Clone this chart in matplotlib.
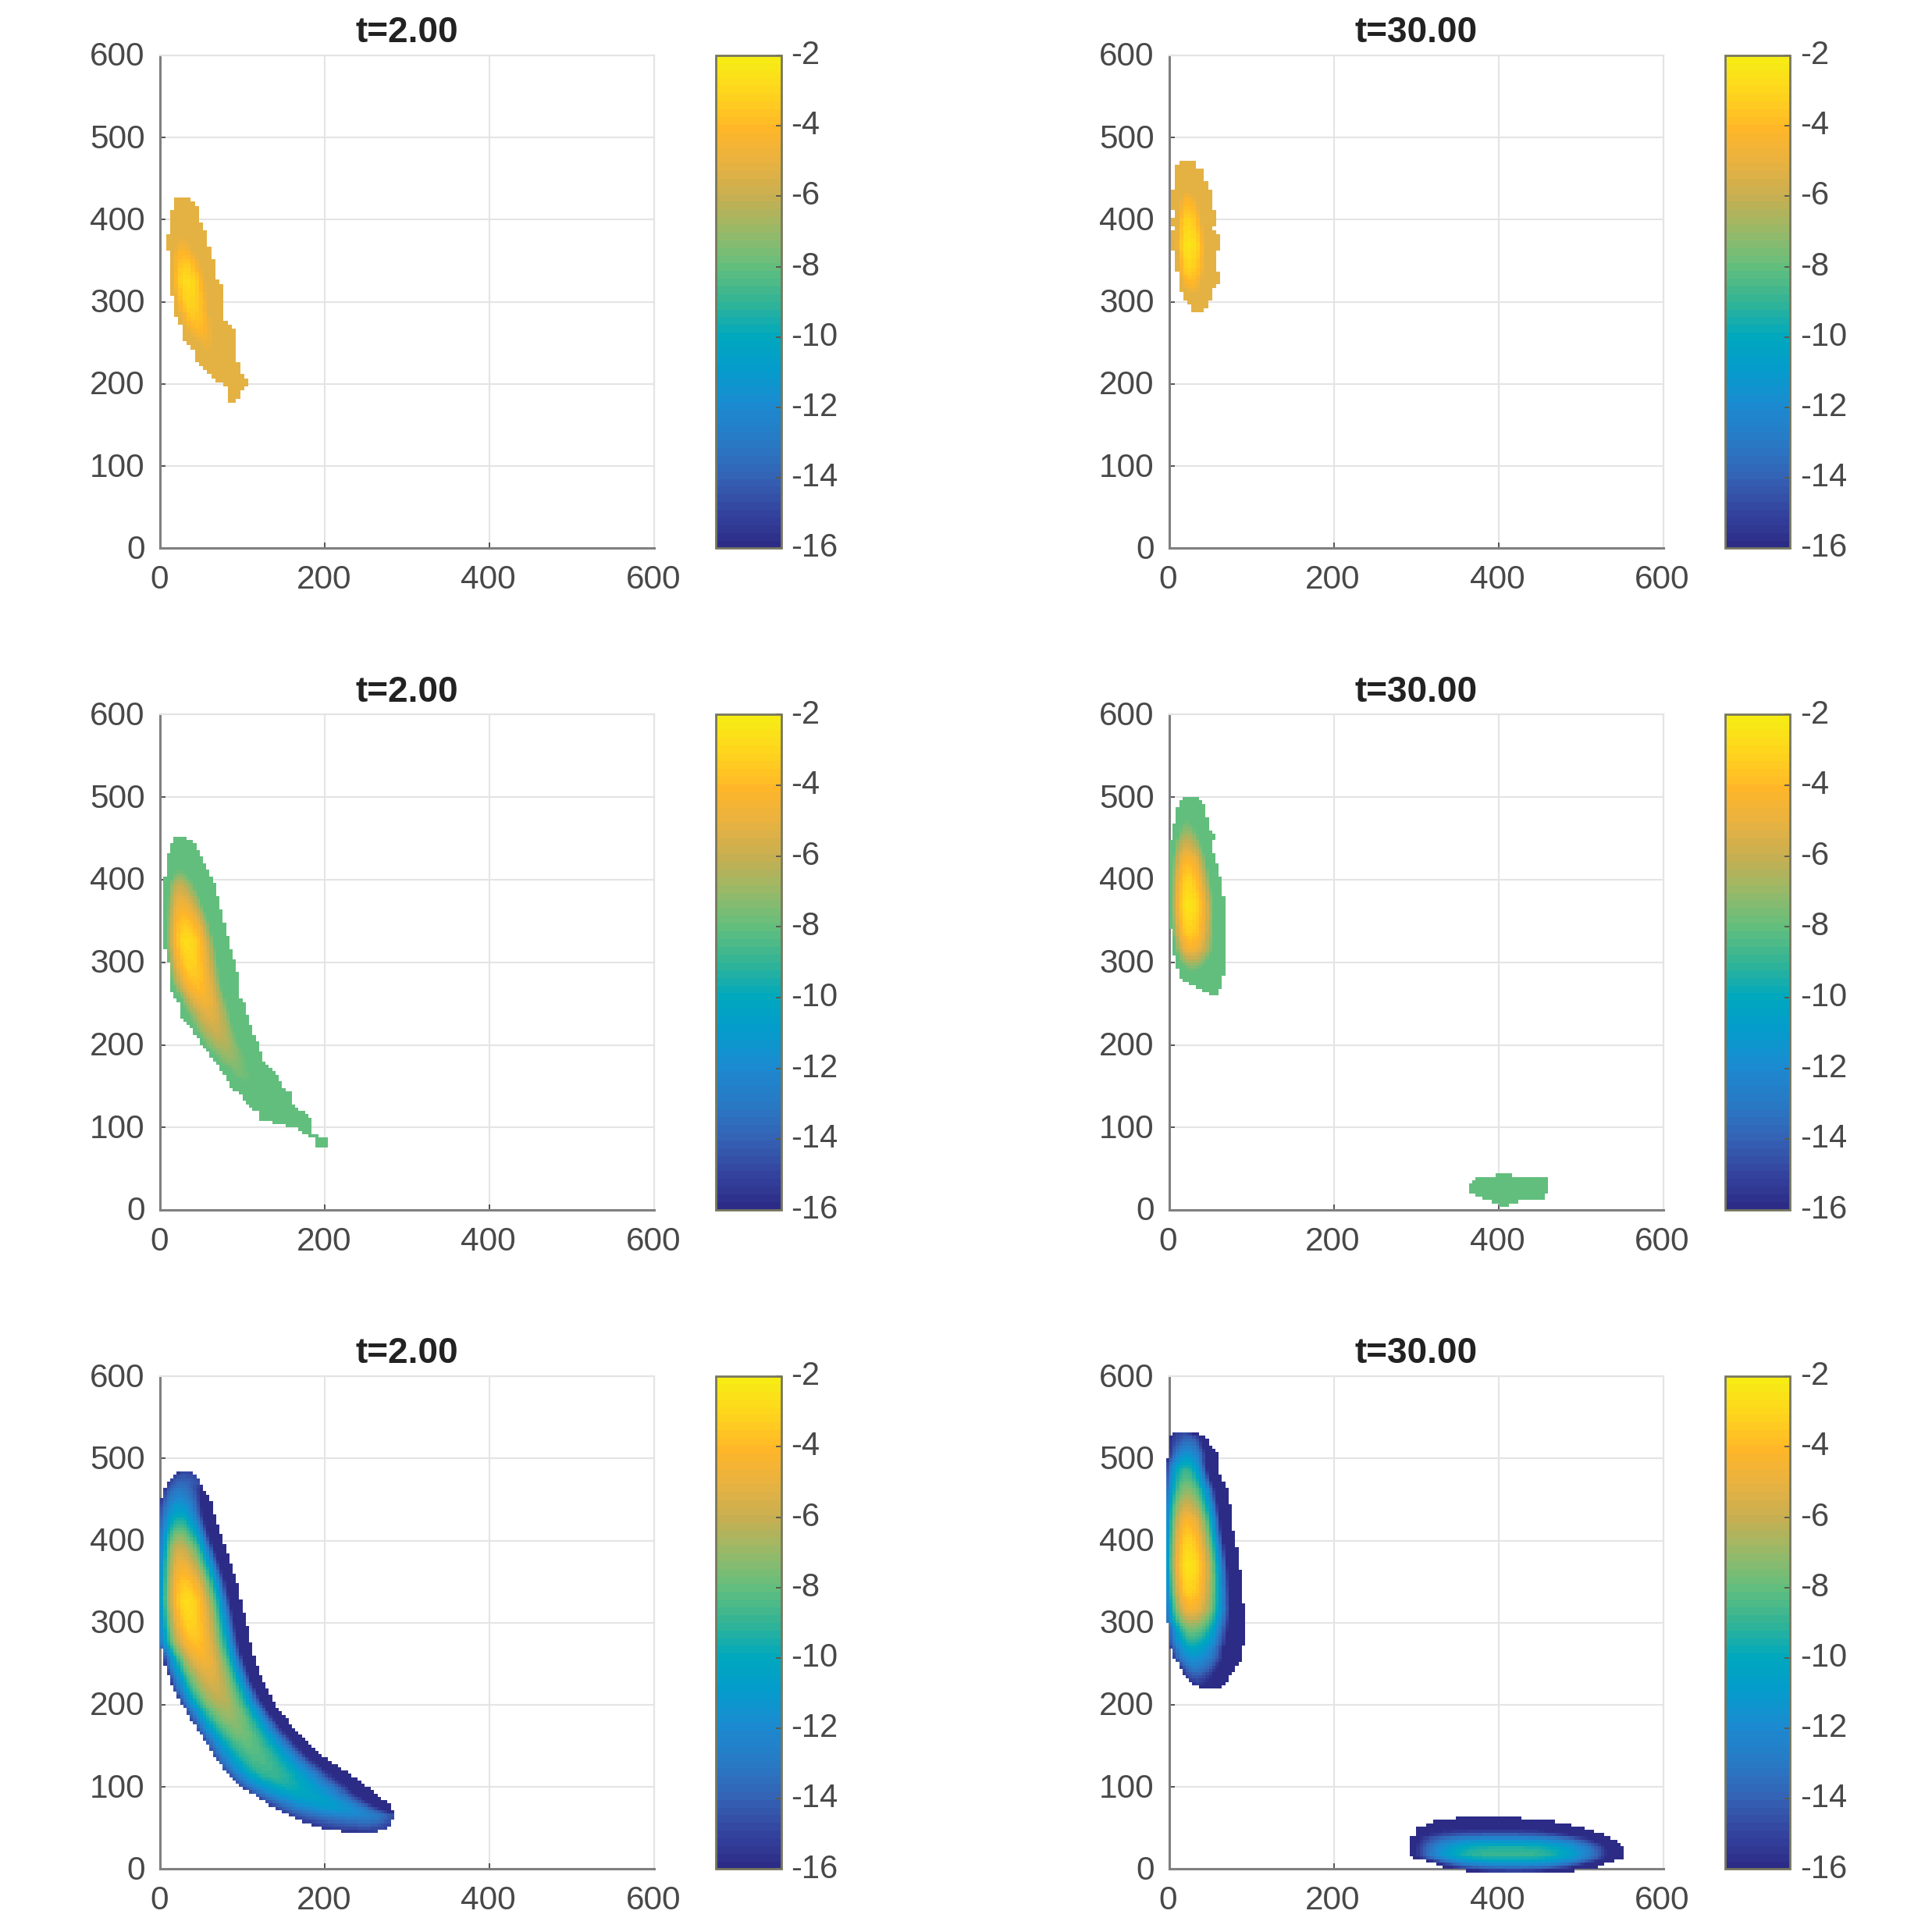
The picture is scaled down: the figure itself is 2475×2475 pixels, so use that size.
import numpy as np
import matplotlib
matplotlib.use("Agg")
import matplotlib.pyplot as plt
from matplotlib.colors import LinearSegmentedColormap, Normalize
from matplotlib.cm import ScalarMappable
from matplotlib.transforms import ScaledTranslation

plt.rcParams['font.family'] = ['Liberation Sans', 'DejaVu Sans']
plt.rcParams['axes.unicode_minus'] = False

# colour scale as seen on the colourbars (value, rgb)
CB_VALUES = [-16, -15, -14, -13, -12, -11, -10, -9, -8, -7, -6, -5, -4, -3, -2]
CB_COLORS = [(44, 44, 135), (52, 70, 160), (52, 100, 182), (40, 122, 198), (28, 138, 208),
             (5, 155, 205), (0, 168, 190), (50, 180, 150), (98, 190, 125), (150, 185, 105),
             (198, 175, 82), (232, 178, 65), (255, 182, 40), (255, 212, 30), (246, 236, 20)]

TITLES = ["t=2.00", "t=30.00"]
TICKS = [0, 100, 200, 300, 400, 500, 600]
XTICKS = [0, 200, 400, 600]
CB_TICKS = [-16, -14, -12, -10, -8, -6, -4, -2]

# floors of the three rows (values below are shown at the floor)
FLOORS = [-5.2, -8.0, -16.0]

# ---- t=2 field, read along its ridge and at its edges
T2_RIDGE_Y = [45, 60, 75, 94, 117, 155, 177, 208, 245, 268, 295, 325, 348, 367, 393, 412, 435, 461, 485]
T2_RIDGE_X = [245, 252, 210, 165, 132, 104, 90, 72, 57, 46, 37, 32, 29, 26, 23, 23, 23, 23, 27]
T2_RIDGE_V = [-15.5, -13, -11, -10, -8.8, -8, -7.3, -6.2, -5, -4, -3.2, -2.7, -3.5, -4.5, -6, -8, -10.5, -13, -15]
T2_LEFT_Y = [45, 120, 230, 257, 276, 329, 351, 400, 437, 461, 485]
T2_LEFT_V = [-15.5, -14.5, -15.5, -15, -13, -11.5, -12, -13.5, -15, -15.5, -15.5]
T2_RIGHT_Y = [45, 66, 80, 200, 260, 430, 450, 470, 485]
T2_RIGHT_V = [-15, -15, -21, -22, -24, -24, -20, -15, -15]

# ---- t=30 upper lobe
T30U_RIDGE_Y = [220, 233, 252, 275, 297, 316, 338, 370, 402, 424, 440, 465, 487, 509, 525, 533]
T30U_RIDGE_X = [33, 32, 30, 28, 27, 26, 24, 23, 22, 22, 21, 21, 20, 22, 25, 13]
T30U_RIDGE_V = [-16, -14.5, -12, -9.5, -7, -4.5, -3.2, -2.4, -3.2, -4.2, -5.5, -7.5, -9, -12, -14, -15]
T30U_LEFT_Y = [219, 275, 300, 370, 440, 500, 533]
T30U_LEFT_V = [-16, -15, -14, -12, -13, -16, -16]
T30U_RIGHT_Y = [219, 280, 370, 480, 510, 533]
T30U_RIGHT_V = [-20, -26, -26, -26, -22, -16]

# ---- t=30 lower lobe
T30L_RIDGE_Y = [-4, 5, 12, 19, 28, 37, 42, 50, 62]
T30L_RIDGE_X = [420, 415, 412, 409, 409, 409, 400, 400, 390]
T30L_RIDGE_V = [-16, -12, -9.8, -8.7, -9.6, -12, -14, -16.5, -20]
T30L_LEFT_V = -17
T30L_RIGHT_V = -20

# ---- outlines (y, left x, right x)
P1_Y = [178, 191, 199, 206, 215, 228, 242, 257, 269, 281, 300, 317, 329, 358, 368, 382, 385, 400, 419, 428]
P1_L = [82, 82, 77, 64, 55, 44, 39, 27, 27, 20, 15, 14, 13, 11, 7, 7, 14, 14, 15, 18]
P1_R = [94, 96, 106, 106, 99, 94, 90, 90, 90, 77, 77, 77, 68, 64, 59, 59, 57, 47, 44, 31]

P2_Y = [288, 295, 300, 308, 319, 324, 335, 337, 359, 364, 372, 383, 388, 396, 409, 416, 436, 439, 459, 464, 472]
P2_L = [26, 26, 19, 15, 14, 11, 11, 7, 7, 3, 3, 3, 6, 3, 7, 3, 3, 7, 7, 9, 15]
P2_R = [38, 47, 47, 52, 55, 63, 63, 58, 58, 63, 63, 58, 53, 58, 58, 50, 50, 47, 42, 34, 34]

P3_Y = [76, 89, 91, 99, 110, 118, 127, 140, 149, 168, 181, 200, 219, 234, 250, 259, 285, 302, 325, 338, 363, 395, 407, 420, 436, 445, 450]
P3_L = [190, 190, 174, 165, 119, 119, 106, 97, 86, 75, 65, 51, 38, 24, 23, 15, 11, 10, 3, 4, 4, 4, 7, 7, 11, 15, 18]
P3_R = [202, 202, 185, 185, 185, 174, 162, 161, 150, 139, 126, 119, 111, 106, 103, 95, 95, 90, 83, 81, 74, 67, 60, 53, 46, 40, 32]

P4_Y = [262, 272, 278, 286, 300, 316, 341, 343, 374, 401, 420, 439, 454, 464, 472, 481, 492, 500]
P4_L = [47, 28, 16, 12, 8, 4, 4, -1, -1, -1, -1, 0, 4, 4, 8, 8, 12, 16]
P4_R = [60, 63, 63, 67, 67, 67, 67, 67, 67, 63, 58, 52, 55, 47, 47, 43, 43, 36]
P4B_Y = [6, 9, 12, 14, 20, 22, 33, 38, 41, 43]
P4B_L = [401, 401, 380, 380, 370, 365, 365, 373, 384, 405]
P4B_R = [412, 412, 445, 456, 456, 460, 460, 460, 415, 415]

P5_Y = [45, 48, 61, 66, 79, 82, 98, 103, 117, 124, 136, 155, 170, 181, 196, 200, 218, 230, 245, 260, 276, 300, 329, 351, 378, 400, 420, 437, 452, 461, 477, 485]
P5_L = [228, 203, 165, 155, 132, 127, 102, 95, 82, 76, 67, 55, 45, 38, 29, 26, 16, 12, 7, 4, 0, 0, 0, 0, 0, 0, 0, 0, 2, 4, 13, 27]
P5_R = [259, 275, 283, 285, 278, 274, 256, 248, 228, 218, 200, 180, 164, 155, 143, 139, 130, 124, 119, 114, 110, 105, 98, 93, 84, 76, 70, 65, 60, 54, 46, 38]

P6_Y = [219, 224, 233, 246, 257, 270, 275, 295, 302, 357, 386, 413, 440, 462, 481, 494, 508, 519, 529, 533]
P6_L = [47, 32, 19, 14, 5, 2, 0, 0, -4, -4, -4, -4, -4, -4, -4, -4, 0, 0, 2, 7]
P6_R = [58, 68, 73, 81, 89, 89, 92, 92, 92, 87, 83, 78, 75, 71, 62, 58, 58, 49, 39, 19]
P6B_Y = [-4, 2, 7, 12, 15, 26, 31, 39, 42, 47, 50, 55, 59, 63]
P6B_L = [372, 333, 320, 305, 294, 294, 294, 294, 301, 301, 301, 314, 320, 357]
P6B_R = [481, 519, 532, 548, 552, 552, 548, 535, 527, 511, 504, 485, 464, 416]


def lobe(X, Y, ry, rx, rv, oy, ol, orr, vl, vr, power):
    """Value of a lobe from the values read along its ridge and edges."""
    xc = np.interp(Y, ry, rx)
    vc = np.interp(Y, ry, rv)
    xl = np.interp(Y, oy, ol)
    xr = np.interp(Y, oy, orr)
    left = X < xc
    u = np.where(left, (xc - X) / np.maximum(xc - xl, 1), (X - xc) / np.maximum(xr - xc, 1))
    u = np.clip(u, 0, 1)
    ve = np.where(left, vl, vr)
    return vc + (ve - vc) * u ** power


def t2_field(X, Y):
    vl = np.interp(Y, T2_LEFT_Y, T2_LEFT_V)
    vr = np.interp(Y, T2_RIGHT_Y, T2_RIGHT_V)
    return lobe(X, Y, T2_RIDGE_Y, T2_RIDGE_X, T2_RIDGE_V, P5_Y, P5_L, P5_R, vl, vr, 2)


def t30_upper(X, Y):
    vl = np.interp(Y, T30U_LEFT_Y, T30U_LEFT_V)
    vr = np.interp(Y, T30U_RIGHT_Y, T30U_RIGHT_V)
    return lobe(X, Y, T30U_RIDGE_Y, T30U_RIDGE_X, T30U_RIDGE_V, P6_Y, P6_L, P6_R, vl, vr, 2)


def t30_lower(X, Y):
    return lobe(X, Y, T30L_RIDGE_Y, T30L_RIDGE_X, T30L_RIDGE_V, P6B_Y, P6B_L, P6B_R,
                T30L_LEFT_V, T30L_RIGHT_V, 3)


def mask(X, Y, oy, ol, orr):
    xl = np.interp(Y, oy, ol)
    xr = np.interp(Y, oy, orr)
    return (Y >= oy[0]) & (Y <= oy[-1]) & (X >= xl) & (X <= xr)


cmap = LinearSegmentedColormap.from_list(
    "scale",
    [((v + 16) / 14, tuple(c / 255 for c in rgb)) for v, rgb in zip(CB_VALUES, CB_COLORS)],
    N=64)
norm = Normalize(-16, -2)

W = 1568.0
TXT = '#484848'
COLS = [(130, 531, 581, 634), (949, 1350, 1400, 1453)]
ROWS = [(45, 445), (580, 982), (1117, 1517)]
CELLS = [5, 4, 4]

PANELS = [[[(P1_Y, P1_L, P1_R, t2_field)],
           [(P2_Y, P2_L, P2_R, t30_upper)]],
          [[(P3_Y, P3_L, P3_R, t2_field)],
           [(P4_Y, P4_L, P4_R, t30_upper), (P4B_Y, P4B_L, P4B_R, t30_lower)]],
          [[(P5_Y, P5_L, P5_R, t2_field)],
           [(P6_Y, P6_L, P6_R, t30_upper), (P6B_Y, P6B_L, P6B_R, t30_lower)]]]

fig = plt.figure(figsize=(24.75, 24.75), dpi=100)
UP_Y = ScaledTranslation(0, 1.5 / 72, fig.dpi_scale_trans)
UP_CB = ScaledTranslation(0, 3.2 / 72, fig.dpi_scale_trans)
LEFT_X = ScaledTranslation(-1.0 / 72, 0, fig.dpi_scale_trans)

for r, (y0, y1) in enumerate(ROWS):
    for c, (x0, x1, cx0, cx1) in enumerate(COLS):
        ax = fig.add_axes([x0 / W, 1 - y1 / W, (x1 - x0) / W, (y1 - y0) / W])
        cell = CELLS[r]
        xe = np.arange(-8, 604 + cell, cell)
        ye = np.arange(-8, 604 + cell, cell)
        X, Y = np.meshgrid((xe[:-1] + xe[1:]) / 2, (ye[:-1] + ye[1:]) / 2)
        Z = np.full(X.shape, np.nan)
        for oy, ol, orr, field in PANELS[r][c]:
            m = mask(X, Y, oy, ol, orr)
            Z[m] = np.maximum(field(X, Y), FLOORS[r])[m]
        ax.pcolormesh(xe, ye, np.ma.masked_invalid(Z), cmap=cmap, norm=norm,
                      shading='flat', clip_on=False, zorder=3, antialiased=False,
                      linewidth=0, rasterized=True)
        ax.set_xlim(0, 600)
        ax.set_ylim(0, 600)
        ax.set_xticks(XTICKS)
        ax.set_yticks(TICKS)
        ax.grid(True, color='#e4e4e4', linewidth=1.5, zorder=0)
        ax.set_axisbelow(True)
        for g in ax.get_xgridlines() + ax.get_ygridlines():
            g.set_clip_on(False)
        ax.tick_params(axis='x', direction='in', length=5, width=1.4, color='#555555',
                       labelsize=30.5, labelcolor=TXT, pad=15)
        ax.tick_params(axis='y', direction='in', length=5, width=1.4, color='#555555',
                       labelsize=30.5, labelcolor=TXT, pad=14)
        for lab in ax.get_yticklabels():
            lab.set_transform(lab.get_transform() + UP_Y)
        for lab in ax.get_xticklabels():
            lab.set_transform(lab.get_transform() + LEFT_X)
        for s in ('left', 'bottom'):
            ax.spines[s].set_color('#808080')
            ax.spines[s].set_linewidth(2.2)
        for s in ('top', 'right'):
            ax.spines[s].set_color('#e4e4e4')
            ax.spines[s].set_linewidth(1.5)
        ax.set_title(TITLES[c], fontsize=33, fontweight='bold', color='#222222', pad=12)

        cax = fig.add_axes([cx0 / W, 1 - y1 / W, (cx1 - cx0) / W, (y1 - y0) / W])
        cb = fig.colorbar(ScalarMappable(norm=norm, cmap=cmap), cax=cax, ticks=CB_TICKS)
        cb.ax.tick_params(direction='in', length=5, width=1.4, color='#5a5a4a',
                          labelsize=30, labelcolor=TXT, pad=9)
        for lab in cb.ax.get_yticklabels():
            lab.set_transform(lab.get_transform() + UP_CB)
        cb.outline.set_edgecolor('#77775f')
        cb.outline.set_linewidth(2)

fig.savefig("out.png", dpi=100, facecolor='white')
